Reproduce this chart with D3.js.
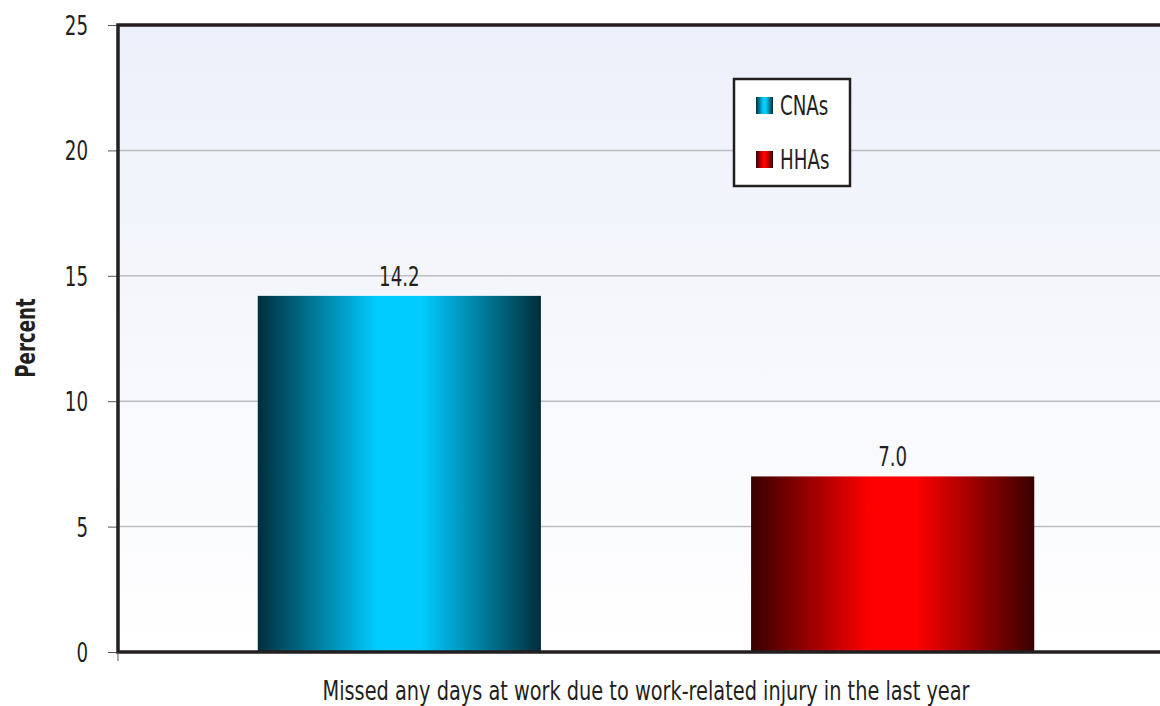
<!DOCTYPE html>
<html><head><meta charset="utf-8">
<script src="https://cdn.jsdelivr.net/npm/d3@7"></script>
<style>
body{margin:0;background:#fff;}
text{font-family:"DejaVu Sans Condensed","Liberation Sans Narrow",sans-serif;fill:#231f20;}
</style></head>
<body><svg id="c" width="1160" height="706"></svg>
<script>
const categories = ["Missed any days at work due to work-related injury in the last year"];
const seriesNames = ["CNAs", "HHAs"];
const cnaValues = [14.2];
const hhaValues = [7.0];
const yTicks = [0, 5, 10, 15, 20, 25];
const valueLabels = ["14.2", "7.0"];

(function(){
const svg = d3.select("#c");
const pL = 118, pT = 25, pB = 652, pR = 1174;
const FS = 26, SX = 0.78;
const y = d3.scaleLinear().domain([0, 25]).range([pB, pT]);
const x0 = d3.scaleBand().domain(categories).range([pL, pR]).paddingOuter(0.18).paddingInner(0);
const x1 = d3.scaleBand().domain(seriesNames).range([0, x0.bandwidth()]).paddingInner(0.426).paddingOuter(0);

const defs = svg.append("defs");
const bg = defs.append("linearGradient").attr("id","bg").attr("x1",0).attr("y1",0).attr("x2",0).attr("y2",1);
bg.append("stop").attr("offset","0%").attr("stop-color","#edf0fa");
bg.append("stop").attr("offset","100%").attr("stop-color","#ffffff");
function barGrad(id, edge, mid){
  const g = defs.append("linearGradient").attr("id",id).attr("x1",0).attr("y1",0).attr("x2",1).attr("y2",0);
  g.append("stop").attr("offset","0%").attr("stop-color",edge);
  g.append("stop").attr("offset","42%").attr("stop-color",mid);
  g.append("stop").attr("offset","58%").attr("stop-color",mid);
  g.append("stop").attr("offset","100%").attr("stop-color",edge);
}
barGrad("gCNA","#002e3c","#00ccff");
barGrad("gHHA","#380000","#ff0000");
const fills = {"CNAs":"url(#gCNA)","HHAs":"url(#gHHA)"};

function label(parent, x, yy, txt, anchor, extra){
  return parent.append("text")
    .attr("transform", `translate(${x},${yy}) ${extra||""} scale(${SX},1)`)
    .attr("text-anchor", anchor).style("font-size", FS+"px").text(txt);
}

svg.append("rect").attr("x",pL).attr("y",pT).attr("width",pR-pL).attr("height",pB-pT).attr("fill","url(#bg)");

svg.append("g").selectAll("line").data(yTicks.filter(t=>t>0 && t<25)).join("line")
  .attr("x1",pL).attr("x2",pR).attr("y1",d=>y(d)).attr("y2",d=>y(d))
  .attr("stroke","#bdbdbf").attr("stroke-width",1.5);

const yAxis = d3.axisLeft(y).tickValues(yTicks).tickSize(10).tickFormat(d3.format("d"));
const ya = svg.append("g").attr("transform",`translate(${pL},0)`).call(yAxis);
ya.select(".domain").remove();
ya.selectAll(".tick line").attr("stroke","#555").attr("stroke-width",1);
ya.selectAll(".tick text").attr("x",null).attr("dy",null)
  .attr("transform",`translate(-30,9.5) scale(${SX},1)`)
  .attr("text-anchor","end").attr("fill","#231f20").style("font-size",FS+"px");

const data = seriesNames.map((s,i)=>({series:s, value:(i===0?cnaValues:hhaValues)[0], label:valueLabels[i], cat:categories[0]}));
svg.append("g").selectAll("rect").data(data).join("rect")
  .attr("x",d=>x0(d.cat)+x1(d.series)).attr("width",x1.bandwidth())
  .attr("y",d=>y(d.value)).attr("height",d=>y(0)-y(d.value))
  .attr("fill",d=>fills[d.series]);
const vl = svg.append("g");
data.forEach(d=>label(vl, x0(d.cat)+x1(d.series)+x1.bandwidth()/2, y(d.value)-10, d.label, "middle"));

svg.append("path").attr("d",`M${pR},${pT}H${pL}V${pB}H${pR}`)
  .attr("fill","none").attr("stroke","#231f20").attr("stroke-width",3.5);
svg.append("line").attr("x1",pL).attr("x2",pL).attr("y1",pB).attr("y2",661).attr("stroke","#555").attr("stroke-width",1);

label(svg, 35, 338, "Percent", "middle", "rotate(-90)").style("font-weight","bold");
svg.append("text").attr("x",x0(categories[0])+x0.bandwidth()/2).attr("y",700).attr("text-anchor","middle")
  .attr("textLength",647).attr("lengthAdjust","spacingAndGlyphs")
  .style("font-size",FS+"px").text(categories[0]);

const lg = svg.append("g").attr("transform","translate(734,79)");
lg.append("rect").attr("width",116).attr("height",107).attr("fill","#fff").attr("stroke","#231f20").attr("stroke-width",2.5);
seriesNames.forEach((s,i)=>{
  const yy = 18 + i*54;
  lg.append("rect").attr("x",22).attr("y",yy).attr("width",17).attr("height",17).attr("fill",fills[s]);
  label(lg, 46, yy+18, s, "start");
});
})();
</script></body></html>
